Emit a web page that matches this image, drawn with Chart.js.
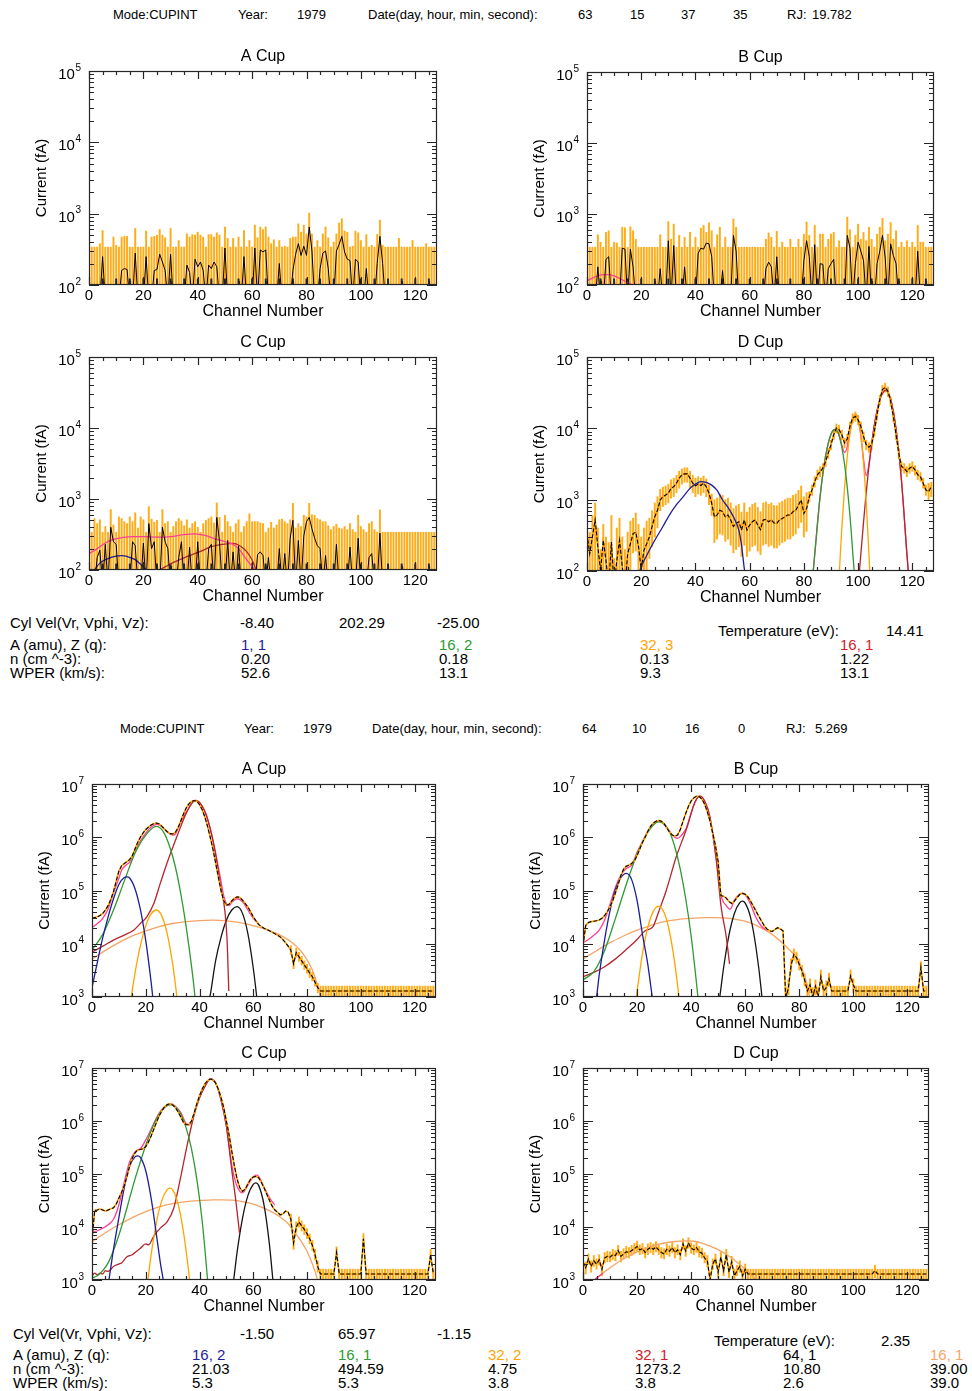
<!DOCTYPE html>
<html lang="en">
<head>
<meta charset="utf-8">
<title>CUPINT spectra</title>
<script src="https://cdn.jsdelivr.net/npm/chart.js@4.4.1/dist/chart.umd.min.js"></script>
<style>
html,body{margin:0;padding:0;background:#fff;}
body{position:relative;width:972px;height:1391px;overflow:hidden;font-family:"Liberation Sans",Arial,Helvetica,sans-serif;color:#000;}
canvas{position:absolute;display:block;}
.t{position:absolute;white-space:nowrap;line-height:1;}
.h{font-size:13px;}
.p{font-size:15px;}
</style>
</head>
<body>
<!-- header 1 -->
<div class="t h" style="left:113px;top:8px">Mode:CUPINT</div>
<div class="t h" style="left:238px;top:8px">Year:</div>
<div class="t h" style="left:297px;top:8px">1979</div>
<div class="t h" style="left:368px;top:8px">Date(day, hour, min, second):</div>
<div class="t h" style="left:578px;top:8px">63</div>
<div class="t h" style="left:630px;top:8px">15</div>
<div class="t h" style="left:681px;top:8px">37</div>
<div class="t h" style="left:733px;top:8px">35</div>
<div class="t h" style="left:787px;top:8px">RJ:</div>
<div class="t h" style="left:812px;top:8px">19.782</div>
<!-- parameter block 1 -->
<div class="t p" style="left:10px;top:615px">Cyl Vel(Vr, Vphi, Vz):</div>
<div class="t p" style="left:240px;top:615px">-8.40</div>
<div class="t p" style="left:339px;top:615px">202.29</div>
<div class="t p" style="left:437px;top:615px">-25.00</div>
<div class="t p" style="left:718px;top:623px">Temperature (eV):</div>
<div class="t p" style="left:886px;top:623px">14.41</div>
<div class="t p" style="left:10px;top:637px">A (amu), Z (q):</div>
<div class="t p" style="left:241px;top:637px;color:#1e1e9a">1, 1</div>
<div class="t p" style="left:439px;top:637px;color:#2e9a32">16, 2</div>
<div class="t p" style="left:640px;top:637px;color:#ffa500">32, 3</div>
<div class="t p" style="left:840px;top:637px;color:#d0232b">16, 1</div>
<div class="t p" style="left:10px;top:651px">n (cm ^-3):</div>
<div class="t p" style="left:241px;top:651px">0.20</div>
<div class="t p" style="left:439px;top:651px">0.18</div>
<div class="t p" style="left:640px;top:651px">0.13</div>
<div class="t p" style="left:840px;top:651px">1.22</div>
<div class="t p" style="left:10px;top:665px">WPER (km/s):</div>
<div class="t p" style="left:241px;top:665px">52.6</div>
<div class="t p" style="left:439px;top:665px">13.1</div>
<div class="t p" style="left:640px;top:665px">9.3</div>
<div class="t p" style="left:840px;top:665px">13.1</div>
<!-- header 2 -->
<div class="t h" style="left:120px;top:722px">Mode:CUPINT</div>
<div class="t h" style="left:244px;top:722px">Year:</div>
<div class="t h" style="left:303px;top:722px">1979</div>
<div class="t h" style="left:372px;top:722px">Date(day, hour, min, second):</div>
<div class="t h" style="left:582px;top:722px">64</div>
<div class="t h" style="left:632px;top:722px">10</div>
<div class="t h" style="left:685px;top:722px">16</div>
<div class="t h" style="left:738px;top:722px">0</div>
<div class="t h" style="left:786px;top:722px">RJ:</div>
<div class="t h" style="left:815px;top:722px">5.269</div>
<!-- parameter block 2 -->
<div class="t p" style="left:13px;top:1326px">Cyl Vel(Vr, Vphi, Vz):</div>
<div class="t p" style="left:240px;top:1326px">-1.50</div>
<div class="t p" style="left:338px;top:1326px">65.97</div>
<div class="t p" style="left:437px;top:1326px">-1.15</div>
<div class="t p" style="left:714px;top:1333px">Temperature (eV):</div>
<div class="t p" style="left:881px;top:1333px">2.35</div>
<div class="t p" style="left:13px;top:1347px">A (amu), Z (q):</div>
<div class="t p" style="left:192px;top:1347px;color:#1e1e9a">16, 2</div>
<div class="t p" style="left:338px;top:1347px;color:#2e9a32">16, 1</div>
<div class="t p" style="left:488px;top:1347px;color:#ffa500">32, 2</div>
<div class="t p" style="left:635px;top:1347px;color:#d0232b">32, 1</div>
<div class="t p" style="left:783px;top:1347px">64, 1</div>
<div class="t p" style="left:930px;top:1347px;color:#f5a468">16, 1</div>
<div class="t p" style="left:13px;top:1361px">n (cm ^-3):</div>
<div class="t p" style="left:192px;top:1361px">21.03</div>
<div class="t p" style="left:338px;top:1361px">494.59</div>
<div class="t p" style="left:488px;top:1361px">4.75</div>
<div class="t p" style="left:635px;top:1361px">1273.2</div>
<div class="t p" style="left:783px;top:1361px">10.80</div>
<div class="t p" style="left:930px;top:1361px">39.00</div>
<div class="t p" style="left:13px;top:1375px">WPER (km/s):</div>
<div class="t p" style="left:192px;top:1375px">5.3</div>
<div class="t p" style="left:338px;top:1375px">5.3</div>
<div class="t p" style="left:488px;top:1375px">3.8</div>
<div class="t p" style="left:635px;top:1375px">3.8</div>
<div class="t p" style="left:783px;top:1375px">2.6</div>
<div class="t p" style="left:930px;top:1375px">39.0</div>

<script>
// ---------------- DATA ----------------
const N = null;
const CHANNELS = Array.from({length: 128}, (_, i) => i);   // channel numbers 0..127
const TOP_MARK_CH = [5,10,15,20,25,30,35,40,45,50,55,60,65,70,75,80,85,90,95,100,105,110,115,120,125];
const TOP_MARK_VAL = 122;

// ===== Top set (day 63) =====
const aTopErrHi = [
380,340,340,340,380,580,340,340,340,470,360,340,470,480,480,340,
340,620,340,340,340,570,340,470,480,500,600,500,460,340,620,340,
340,420,340,340,520,470,510,500,550,500,470,340,510,510,470,540,
500,340,650,450,340,450,340,470,340,580,340,420,340,690,460,650,
600,650,470,380,430,340,420,340,350,340,450,470,470,720,550,690,
520,1020,520,340,420,340,520,650,460,340,400,520,740,850,570,550,
340,350,570,540,420,340,510,340,360,340,510,810,360,340,340,340,
340,340,450,340,340,340,340,420,340,340,340,340,380,340,340,340];
const aTopData = [
60,60,60,60,60,250,60,60,60,60,60,60,160,170,165,60,
60,280,60,60,60,250,60,60,160,165,270,210,160,60,270,60,
60,60,60,60,190,150,60,230,180,210,160,60,190,170,210,180,
60,60,330,60,60,60,60,60,60,250,60,60,60,330,60,310,
290,310,60,60,60,60,200,60,60,60,60,160,270,380,260,350,
260,650,300,60,60,170,280,300,170,60,60,300,370,480,290,230,
220,60,230,210,60,60,170,60,60,60,200,480,200,60,60,60,
60,60,60,60,60,60,60,60,60,60,60,60,60,60,60,60];

const bTopErrHi = [
470,340,340,340,510,400,340,550,580,340,400,390,340,650,640,340,
660,580,440,340,340,340,340,340,340,340,340,510,340,340,780,440,
720,340,500,340,470,340,550,340,470,340,630,690,550,750,580,340,
510,650,340,470,340,340,850,650,340,340,340,340,340,340,340,340,
340,340,440,540,470,340,570,340,400,340,340,440,340,340,440,340,
520,770,500,340,690,340,520,520,340,440,520,550,340,420,340,340,
900,600,340,500,720,440,550,420,650,440,340,520,650,870,420,520,
760,440,580,340,400,340,420,340,400,340,690,400,400,340,340,340];
const bTopData = [
60,60,60,60,180,60,60,230,250,60,60,60,60,330,320,60,
320,180,60,60,60,60,60,60,60,60,60,170,60,60,420,60,
360,60,60,60,180,60,60,60,60,280,330,320,390,380,250,60,
60,60,160,60,60,60,500,300,60,60,60,60,60,60,60,60,
60,60,170,210,180,60,250,60,60,60,60,60,60,60,60,60,
220,420,250,60,370,60,200,195,60,170,200,230,60,60,60,60,
500,330,60,200,400,300,220,60,350,60,60,200,300,500,240,60,
380,260,200,60,60,60,60,60,60,60,300,60,60,60,60,60];
const bTopPink = [[0,115],[2,125],[4,135],[6,140],[8,140],[10,134],[12,124],[14,113],[16,104],[17,99],[18,94]];

const cTopErrHi = [
340,340,530,450,510,340,410,340,710,430,340,560,530,480,450,560,
480,640,390,560,510,340,780,520,470,500,340,710,450,480,340,410,
480,530,490,420,510,390,450,480,400,340,450,500,530,560,460,880,
550,340,590,480,410,340,450,510,340,410,480,620,480,480,480,460,
450,340,390,470,390,430,510,520,480,450,510,870,390,450,410,590,
560,870,600,590,530,510,480,480,420,370,410,440,390,380,410,370,
450,370,340,590,410,370,340,450,480,370,340,700,340,340,340,340,
340,340,340,340,340,340,340,340,340,340,340,340,340,340,340,340];
const cTopData = [
60,60,60,150,190,60,230,60,400,250,230,60,60,60,60,60,
250,220,60,60,240,60,450,200,250,60,60,400,250,200,60,60,
60,150,250,60,60,210,60,60,250,60,60,60,200,230,60,550,
250,60,60,260,60,180,60,220,60,60,60,60,60,60,165,180,
160,60,150,60,60,60,200,60,170,60,280,500,60,260,60,300,
480,550,380,280,220,200,60,160,60,60,60,230,60,60,60,60,
210,60,60,280,60,60,60,150,170,60,60,330,60,60,60,60,
60,60,60,60,60,60,60,60,60,60,60,60,60,60,60,60];
const cTopPink = [[0,170],[3,200],[6,240],[9,270],[12,285],[16,295],[20,295],[25,290],[30,295],[35,315],[39,322],[43,305],[47,270],[50,250],[53,230],[55,200],[58,140],[61,100],[62,88]];
const cTopBlue = [[2,100],[4,125],[7,145],[10,157],[12,159],[14,155],[17,140],[19,120],[21,100],[22,92]];
const cTopRed  = [[26,100],[30,122],[36,154],[40.8,181],[45,213],[50,232],[53,237],[56,213],[58,181],[60,138],[61.5,100],[62,92]];

const dTopData = [
335,175,300,520,220,100,270,140,60,255,60,140,270,115,60,175,
240,335,350,220,105,195,240,300,420,575,710,990,1100,1160,1230,1440,
1520,1700,2000,2230,2300,2300,2000,1700,1560,1660,1580,1700,1520,1230,890,575,
610,710,680,575,610,520,420,465,490,375,520,375,440,490,520,440,
380,520,530,490,520,470,465,520,545,575,610,610,680,710,840,990,
640,750,1100,1370,1790,2230,2480,2760,3420,4500,5890,8130,10100,9550,8130,6230,
7100,10700,14000,14700,13200,10700,7700,5890,5440,5890,9100,15500,25300,35000,37600,33000,
24000,14700,8130,4500,2920,2760,2480,2760,2920,2620,2230,2100,1700,1370,1300,1520];
const dTopErrLo = [
40,40,40,40,40,40,40,40,40,40,40,40,40,40,40,40,
40,180,190,40,40,40,40,150,220,300,400,700,800,850,900,1050,
1100,1250,1450,1650,1750,1750,1450,1250,1100,1200,1150,1250,1100,850,600,250,
280,330,320,260,280,230,180,200,220,160,230,160,190,220,230,190,
170,230,240,220,230,210,210,230,250,260,280,280,310,330,400,480,
300,360,930,1150,1500,1900,2100,2350,2900,3800,5000,6900,8600,8100,6900,5300,
6000,9100,11900,12500,11200,9100,6500,5000,4600,5000,7700,13200,21500,29800,32000,28000,
20400,12500,6900,3800,2500,2350,2100,2350,2500,2200,1900,1800,1450,1150,1000,1100];
const dTopErrHi = [
500,350,600,900,400,200,450,300,250,600,150,400,550,300,200,350,
500,550,650,450,300,400,500,550,700,900,1100,1400,1500,1550,1650,1900,
2000,2200,2500,2700,2800,2800,2500,2200,2000,2100,2000,2150,1950,1600,1200,1000,
1050,1200,1150,1000,1050,900,750,820,860,670,900,670,780,860,900,780,
680,900,930,860,900,830,820,900,950,1000,1050,1050,1150,1200,1350,1550,
1100,1250,1300,1600,2100,2600,2900,3200,4000,5200,6800,9400,11500,11000,9400,7200,
8200,12300,16000,17000,15200,12300,8900,6800,6300,6800,10500,17800,29000,40000,43000,38000,
27600,17000,9400,5200,3400,3200,2900,3200,3400,3000,2600,2400,2000,1600,1700,1750];
const dTopBlue   = [[19.3,95],[20,115],[22,165],[25,270],[28,420],[30,575],[33,850],[35,1040],[38,1440],[40,1650],[42,1790],[44,1750],[46,1600],[48,1350],[50,990],[52,780],[54,575],[56,375],[57,230],[58,110],[58.3,95]];
const dTopGreen  = [[83.4,95],[84,170],[86,1120],[88,4050],[90,8250],[91.5,9700],[93,7900],[95,3150],[97,600],[98.5,107],[98.7,90]];
const dTopOrange = [[93,84],[94,400],[95,1450],[96,4000],[97,8350],[98,13100],[99.1,15500],[100,13300],[101,7900],[102,3250],[103,910],[104,175],[104.4,85]];
const dTopRed    = [[100.4,90],[102,480],[104,2950],[106,11100],[108,25000],[110.2,34000],[112,25700],[114,9800],[116,1870],[118,175],[118.6,90]];
const dTopPink   = [[83.4,95],[84,170],[86,1120],[88,4050],[90,8250],[91.5,9700],[93,7980],[94,5850],[95,4600],[96,5500],[97,8950],[98,13200],[99.1,15500],[100,13400],[101,8060],[102,3730],[103,2170],[104,3130],[106,11100],[108,25000],[110.2,34000],[112,25700],[114,9800],[116,1870],[118,175],[118.6,90]];

// ===== Bottom set (day 64) =====
const aBotData = [
30000,31000,32000,34000,37000,43000,52000,68000,95000,150000,230000,290000,320000,350000,380000,450000,
600000,800000,1000000,1200000,1400000,1550000,1700000,1800000,1850000,1780000,1600000,1420000,1270000,1170000,1150000,1230000,
1500000,2000000,2700000,3500000,4200000,4700000,4900000,4750000,4100000,3300000,2400000,1600000,1000000,600000,330000,180000,
100000,65000,53000,55000,64000,72000,76000,74000,66000,57000,49000,40000,32000,27000,23000,21000,
19500,18500,17500,16500,15500,14500,13500,12000,10500,9000,7600,4200,6800,5700,4800,4000,
3400,2800,2400,1900,1500,1300,1300,1300,1300,1300,1300,1300,1300,1300,1300,1300,
1300,1300,1300,1300,1300,1300,1300,1300,1300,1300,1300,1300,1300,1300,1300,1300,
1300,1300,1300,1300,1300,1300,1300,1300,1300,1300,1300,1300,1300,1300,1300,1300];
const aBotErrLo = [
N,N,N,N,N,N,N,N,N,N,N,N,N,N,N,N,
N,N,N,N,N,N,N,N,N,N,N,N,N,N,N,N,
N,N,N,N,N,N,N,N,N,N,N,N,N,N,N,N,
N,N,N,N,N,N,N,N,N,N,N,N,N,N,N,N,
N,N,N,N,N,N,N,N,N,N,6300,3400,5600,4700,4000,3300,
2800,2300,2000,1600,1200,800,800,800,800,800,800,800,800,800,800,800,
800,800,800,800,800,800,800,800,800,800,800,800,800,800,800,800,
800,800,800,800,800,800,800,800,800,800,800,800,800,800,800,800];
const aBotErrHi = [
N,N,N,N,N,N,N,N,N,N,N,N,N,N,N,N,
N,N,N,N,N,N,N,N,N,N,N,N,N,N,N,N,
N,N,N,N,N,N,N,N,N,N,N,N,N,N,N,N,
N,N,N,N,N,N,N,N,N,N,N,N,N,N,N,N,
N,N,N,N,N,N,N,N,N,N,9200,5100,8200,6900,5800,4800,
4100,3400,2900,2300,1800,1600,1600,1600,1600,1600,1600,1600,1600,1600,1600,1600,
1600,1600,1600,1600,1600,1600,1600,1600,1600,1600,1600,1600,1600,1600,1600,1600,
1600,1600,1600,1600,1600,1600,1600,1600,1600,1600,1600,1600,1600,1600,1600,1600];
const aBotBlue   = [[0,1500],[2,4500],[4,13000],[6,32000],[8,70000],[10,130000],[12,175000],[13,180000],[14,172000],[16,108000],[18,44000],[20,11400],[22,1900],[22.6,1000],[23,600]];
const aBotGreen  = [[0,7600],[4,15000],[8,43000],[12,150000],[16,500000],[20,1100000],[24,1600000],[27,1160000],[30,440000],[32,164000],[34,45000],[36,9400],[38,1460],[38.5,800]];
const aBotOrange = [[14.3,800],[16,2800],[18,9200],[20,21700],[22,36300],[24,43000],[26,33000],[28,15300],[30,4200],[31.6,1000],[32,640]];
const aBotRed    = [[0,7000],[4,9000],[8,11700],[12,14500],[15.5,18000],[18,24000],[20.4,32000],[23,57000],[25.4,136000],[27.9,325000],[31.6,1030000],[35.3,3000000],[38.4,4900000],[40.5,4200000],[42.7,2450000],[45.2,770000],[47.7,136000],[50.2,13500],[50.9,1300]];
const aBotBlack  = [[43.4,800],[44,1100],[46,4800],[48,13200],[50,27700],[52,43000],[54,50000],[56,37200],[58,15500],[60,3500],[61.3,1000],[61.7,650]];
const aBotPeach  = [[0,5100],[5,7500],[10,10500],[15,14000],[20,17500],[25,21000],[30,24000],[35,26000],[40,27300],[45,27800],[50,27000],[55,25000],[60,22000],[65,18500],[70,14500],[75,10000],[78,7000],[80,5000],[82,3200],[84,1600],[85,1000],[85.4,800]];
const aBotPink   = [[0,20000],[2,24000],[4,30000],[6,45000],[8,90000],[10,170000],[11,240000],[12,280000],[13,310000],[14,340000],[16,560000],[18,850000],[20,1200000],[22,1550000],[24,1750000],[26,1600000],[28,1250000],[30,1100000],[31,1150000],[33,1900000],[35.3,3100000],[38.4,4900000],[40.5,4200000],[42.7,2450000],[45.2,800000],[47.7,180000],[49,80000],[50,57000],[51,52000],[52,60000],[54,70000],[56,62000],[58,43000],[60,30000],[62,24000]];

const bBotData = [
9000,22000,25000,26000,26500,27000,28000,30000,34000,40000,50000,65000,90000,130000,190000,250000,
285000,300000,320000,360000,450000,600000,800000,1000000,1300000,1600000,1850000,2000000,2080000,2000000,1800000,1500000,
1250000,1100000,1050000,1100000,1400000,2000000,2800000,3800000,4800000,5500000,5900000,5800000,5200000,4200000,3000000,2000000,
1200000,700000,350000,80000,78000,72000,62000,57000,63000,74000,84000,88000,85000,76000,63000,51000,
41000,33000,27000,22000,19000,17500,17000,18500,20000,19000,17500,900,1500,4000,6300,5500,
4100,3100,2100,1300,1700,1000,1600,1000,2400,1300,1500,2200,1300,1300,1300,1300,
1300,1300,1300,2500,1700,1300,1300,1300,1300,1300,1300,1300,1300,1300,1300,1300,
1300,1300,1300,1300,1300,1300,1300,1300,1300,1300,1300,1300,1300,3600,1300,1300];
const bBotErrLo = [
7000,N,N,N,N,N,N,N,N,N,N,N,N,N,N,N,
N,N,N,N,N,N,N,N,N,N,N,N,N,N,N,N,
N,N,N,N,N,N,N,N,N,N,N,N,N,N,N,N,
N,N,N,N,N,N,N,N,N,N,N,N,N,N,N,N,
N,N,N,N,N,N,N,N,N,N,N,600,1100,3000,4900,4300,
3200,2400,1600,900,1200,700,1100,700,1800,900,1100,1600,800,800,800,800,
800,800,800,1900,1200,800,800,800,800,800,800,800,800,800,800,800,
800,800,800,800,800,800,800,800,800,800,800,800,800,2700,800,800];
const bBotErrHi = [
11000,N,N,N,N,N,N,N,N,N,N,N,N,N,N,N,
N,N,N,N,N,N,N,N,N,N,N,N,N,N,N,N,
N,N,N,N,N,N,N,N,N,N,N,N,N,N,N,N,
N,N,N,N,N,N,N,N,N,N,N,N,N,N,N,N,
N,N,N,N,N,N,N,N,N,N,N,1500,2100,5200,8000,7000,
5200,3900,2700,1700,2200,1500,2100,1500,3200,1700,2000,2800,1600,1600,1600,1600,
1600,1600,1600,3200,2200,1600,1600,1600,1600,1600,1600,1600,1600,1600,1600,1600,
1600,1600,1600,1600,1600,1600,1600,1600,1600,1600,1600,1600,1600,4600,1600,1600];
const bBotBlue   = [[4.6,800],[5,1000],[6,2600],[8,12000],[10,42000],[12,105000],[14,175000],[16,210000],[18,160000],[20,65000],[22,15000],[24,4000],[25.6,1000],[26,700]];
const bBotGreen  = [[0,2100],[4,3000],[8,7500],[12,30000],[16,130000],[20,480000],[24,1250000],[28,1950000],[30,1750000],[32,1250000],[34,650000],[36,250000],[38,70000],[40,14000],[42,1800],[42.5,1000],[42.8,700]];
const bBotOrange = [[19.4,800],[19.7,1000],[22,6600],[24,20600],[26,40500],[28,51000],[30,38600],[32,16800],[34,4100],[35.5,1000],[35.9,650]];
const bBotRed    = [[0,2400],[4,2900],[8,3700],[12,5200],[16,7800],[20,12000],[23,17500],[25.9,21000],[28,40000],[30.8,100000],[34.5,430000],[38.2,1400000],[41.3,4400000],[43.2,5900000],[45,4800000],[46.9,2450000],[49.3,375000],[51.1,49000],[53,13500],[54.2,4200]];
const bBotBlack  = [[50.3,800],[50.6,1000],[52,3500],[54,14500],[56,37000],[58,59000],[59,63000],[60,58000],[62,31000],[64,8500],[66,1260],[66.4,700]];
const bBotPeach  = [[0,5200],[5,7400],[10,10500],[15,14000],[20,18000],[25,22000],[30,26000],[35,28500],[40,30000],[45,31000],[48,31000],[52,30500],[56,29000],[60,26500],[65,21000],[70,15000],[75,9000],[78,6300],[80,4500],[82,2500],[83,1600],[84,900],[84.3,700]];
const bBotPink   = [[0,10400],[2,12000],[4,14500],[6,18000],[8,28000],[10,55000],[12,115000],[14,195000],[16,260000],[18,300000],[20,520000],[22,830000],[24,1300000],[26,1750000],[28,2000000],[30,1800000],[32,1300000],[33,1100000],[35,950000],[36.5,1100000],[38.2,1470000],[41.3,4400000],[43.2,5900000],[45,4800000],[46.9,2480000],[49.3,406000],[51.1,81000],[53,52000],[54.5,44500],[56,66000],[58,86000],[59,89500],[60,84000],[62,55000],[64,31000],[66,21300],[68,18000]];

const cBotData = [
5700,20500,21000,22000,21000,20000,21000,22000,23000,27000,35000,45000,60000,90000,140000,200000,
250000,285000,290000,300000,330000,400000,520000,700000,950000,1250000,1550000,1850000,2050000,2100000,2000000,1800000,
1500000,1200000,950000,850000,850000,1000000,1400000,2100000,3000000,4000000,5000000,5800000,6200000,6000000,5200000,4000000,
2800000,1800000,1000000,550000,270000,140000,80000,55000,47000,52000,65000,80000,88000,90000,85000,70000,
55000,42000,32000,25000,21000,19000,17000,17500,20000,19000,14000,5000,10000,12500,10500,9000,
7500,6000,4500,3000,1800,1300,1300,1300,1300,1300,1300,3300,1300,1300,1300,1300,
1300,1300,1300,1300,1300,6000,1300,1300,1300,1300,1300,1300,1300,1300,1300,1300,
1300,1300,1300,1300,1300,1300,1300,1300,1300,1300,1300,1300,1300,1300,3000,1300];
const cBotErrLo = [
3800,N,N,N,N,N,N,N,N,N,N,N,N,N,N,N,
N,N,N,N,N,N,N,N,N,N,N,N,N,N,N,N,
N,N,N,N,N,N,N,N,N,N,N,N,N,N,N,N,
N,N,N,N,N,N,N,N,N,N,N,N,N,N,N,N,
N,N,N,N,N,N,N,N,N,N,11000,3800,8000,10000,8400,7200,
6000,4800,3600,2400,1400,800,800,800,800,800,800,2500,800,800,800,800,
800,800,800,800,800,4600,800,800,800,800,800,800,800,800,800,800,
800,800,800,800,800,800,800,800,800,800,800,800,800,800,2200,800];
const cBotErrHi = [
8000,N,N,N,N,N,N,N,N,N,N,N,N,N,N,N,
N,N,N,N,N,N,N,N,N,N,N,N,N,N,N,N,
N,N,N,N,N,N,N,N,N,N,N,N,N,N,N,N,
N,N,N,N,N,N,N,N,N,N,N,N,N,N,N,N,
N,N,N,N,N,N,N,N,N,N,17500,6500,12500,15500,13000,11000,
9300,7400,5600,3800,2300,1600,1600,1600,1600,1600,1600,4200,1600,1600,1600,1600,
1600,1600,1600,1600,1600,7500,1600,1600,1600,1600,1600,1600,1600,1600,1600,1600,
1600,1600,1600,1600,1600,1600,1600,1600,1600,1600,1600,1600,1600,1600,3800,1600];
const cBotBlue   = [[6,800],[6.3,1000],[8,3800],[10,15000],[12,55000],[14,140000],[16,210000],[17,220000],[18,205000],[20,115000],[22,35000],[24,7000],[25.5,2000],[26.5,1000],[26.8,750]];
const cBotGreen  = [[0,1100],[2,1200],[4,1500],[6,2100],[8,3600],[10,7000],[12,15000],[14,35000],[16,80000],[18,170000],[20,350000],[22,650000],[24,1100000],[26,1600000],[28,1950000],[29.5,2050000],[31,1850000],[33,1350000],[35,750000],[37,300000],[39,80000],[41,13000],[42.5,2000],[43,1000],[43.3,700]];
const cBotOrange = [[20.5,800],[20.8,1000],[22,3000],[24,12400],[26,31800],[28,50900],[29,54000],[30,50100],[32,27600],[34,8300],[36,1400],[36.3,1000],[36.6,750]];
const cBotRed    = [[0,1200],[1,1350],[2,1250],[3,1340],[4,1300],[5,1500],[6,1450],[8,1800],[10,2000],[11,2100],[13,2750],[15,3000],[16,3300],[18,3960],[20,4800],[21,4600],[22.9,6600],[25.4,9500],[28,12600],[30.4,22600],[32.8,78000],[35.3,330000],[38,1300000],[40,2700000],[42,4500000],[44,6200000],[46,5200000],[48,2500000],[50,790000],[52,120000],[53.5,32000],[54.9,7600]];
const cBotBlack  = [[52.4,800],[52.7,1000],[54,3400],[56,14600],[58,39000],[60,64000],[61,68000],[62,61000],[64,26200],[66,4800],[67.3,1000],[67.6,680]];
const cBotPeach  = [[0,5300],[5,7800],[10,11000],[15,15000],[20,19500],[25,24000],[30,27500],[35,30000],[40,31500],[45,32500],[48,32500],[52,32000],[56,30000],[60,27000],[65,21500],[70,15500],[73,11500],[75,8500],[78,5200],[80,3500],[82,2000],[83.5,1200],[84,950],[84.3,800]];
const cBotPink   = [[0,7800],[2,8500],[4,9500],[6,11000],[8,14000],[10,26000],[12,70000],[14,170000],[16,260000],[17,285000],[18,300000],[20,440000],[22,700000],[24,1150000],[26,1650000],[28,2000000],[29.5,2100000],[31,1900000],[33,1450000],[35,900000],[36.3,850000],[38,1400000],[40,2800000],[42,4500000],[44,6200000],[46,5200000],[48,2500000],[50,820000],[52,150000],[53.5,68000],[55,47000],[56,44000],[57,50000],[59,75000],[61,95000],[62,90000],[64,57000],[66,36000],[68,26000]];

const dBotData = [
2200,1700,2500,1800,2300,2000,2400,1600,2600,2800,2700,3000,2900,3600,2800,3100,
3400,3300,3600,3900,4300,3700,3900,3300,3800,4100,3800,4200,3700,3300,3100,3800,
3500,4100,3300,3700,3000,4800,3500,5000,4000,3700,4100,3400,3200,2600,2300,1000,
2000,2500,1400,2700,1500,3000,1400,2200,1200,1500,1800,1200,1600,1300,1300,1300,
1300,1300,1300,1300,1300,1300,1300,1300,1300,1300,1300,1300,1300,1300,1300,1300,
1300,1300,1300,1300,1300,1300,1300,1300,1300,1300,1300,1300,1300,1300,1300,1300,
1300,1300,1300,1300,1300,1300,1300,1300,1300,1300,1300,1300,1500,1300,1300,1300,
1300,1300,1300,1300,1300,1300,1300,1300,1300,1300,1300,1300,1300,1300,1300,1300];
const dBotErrLo = [
1700,1300,2000,1400,1800,1600,1900,1200,2100,2200,2200,2400,2300,2900,2200,2500,
2700,2600,2900,3100,3400,3000,3100,2600,3000,3300,3000,3400,3000,2600,2500,3000,
2800,3300,2600,3000,2400,3800,2800,4000,3200,3000,3300,2700,2600,2100,1800,700,
1600,2000,1100,2200,1200,2400,1100,1800,900,1200,1400,900,1300,800,800,800,
800,800,800,800,800,800,800,800,800,800,800,800,800,800,800,800,
800,800,800,800,800,800,800,800,800,800,800,800,800,800,800,800,
800,800,800,800,800,800,800,800,800,800,800,800,1100,800,800,800,
800,800,800,800,800,800,800,800,800,800,800,800,800,800,800,800];
const dBotErrHi = [
2800,2200,3100,2300,2900,2500,3000,2000,3300,3500,3400,3800,3600,4500,3500,3900,
4300,4100,4500,4900,5400,4600,4900,4100,4800,5100,4800,5300,4600,4100,3900,4800,
4400,5100,4100,4600,3800,6000,4400,6300,5000,4600,5100,4300,4000,3300,2900,1400,
2500,3100,1800,3400,1900,3800,1800,2800,1600,1900,2300,1600,2000,1600,1600,1600,
1600,1600,1600,1600,1600,1600,1600,1600,1600,1600,1600,1600,1600,1600,1600,1600,
1600,1600,1600,1600,1600,1600,1600,1600,1600,1600,1600,1600,1600,1600,1600,1600,
1600,1600,1600,1600,1600,1600,1600,1600,1600,1600,1600,1600,1900,1600,1600,1600,
1600,1600,1600,1600,1600,1600,1600,1600,1600,1600,1600,1600,1600,1600,1600,1600];
const dBotPeach = [[3.8,920],[4.3,1000],[7.4,1350],[10,1700],[14,2330],[20,3390],[25,4280],[30,4990],[34,5330],[37.6,5450],[41,5380],[45,4770],[50,3750],[55,2600],[60,1610],[62,1310],[64,1000],[64.4,950]];
const dBotPink  = [[3.8,920],[4.3,1000],[5.8,1170],[7.4,1350]];

// ---------------- STYLE ----------------
const COL = {err:'rgba(255,163,0,0.9)', blue:'#1e1e9a', green:'#2e9a32', orange:'#ffa500', red:'#b3262c',
             pink:'#ff3e96', black:'#151515', peach:'#f5a468', mark:'#1d2236'};
const FONT = '"Liberation Sans", Arial, Helvetica, sans-serif';
Chart.defaults.font.family = FONT;
Chart.defaults.color = '#000';
const BAR_W = 1.3;

function errBars(hi){
  return {type:'bar', data: hi.map((v,i)=>({x:CHANNELS[i], y:v})), backgroundColor:COL.err,
          barThickness:BAR_W, grouped:false, order:10, clip:0};
}
function errFloat(lo, hi){
  const d = [];
  hi.forEach((h,i)=>{ if (h !== null) d.push({x:CHANNELS[i], y:[lo[i], h]}); });
  return {type:'bar', data:d, backgroundColor:COL.err, barThickness:BAR_W, grouped:false, order:10, clip:0};
}
function marks(){
  return {type:'bar', data: TOP_MARK_CH.map(c=>({x:c, y:TOP_MARK_VAL})), backgroundColor:COL.mark,
          barThickness:BAR_W, grouped:false, order:9, clip:0};
}
function dataLine(vals, dashed){
  const d = vals.map((v,i)=>({x:CHANNELS[i], y:v}));
  if (!dashed) return [{type:'line', data:d, borderColor:'#000', borderWidth:1, pointRadius:0, tension:0, order:1, clip:0}];
  return [
    {type:'line', data:d, borderColor:COL.orange, borderWidth:1.6, pointRadius:0, tension:0, order:2, clip:0},
    {type:'line', data:d, borderColor:'#000', borderWidth:1.1, borderDash:[4,2], pointRadius:0, tension:0, order:1, clip:0}
  ];
}
function fit(pairs, color, order){
  return {type:'line', data: pairs.map(([x,y])=>({x,y})), borderColor:color, borderWidth:1.3, pointRadius:0,
          cubicInterpolationMode:'monotone', order:order, clip:0};
}

// IDL-like frame: inward ticks on four sides and 10^n labels
const idlFrame = {
  id:'idlFrame',
  afterDatasetsDraw(chart){
    const {ctx, chartArea:a, scales:{x, y}} = chart;
    ctx.save();
    ctx.strokeStyle = '#262626'; ctx.lineWidth = 1.2;
    ctx.beginPath();
    for (let v = 0; v <= x.max; v += 5){
      const px = Math.round(x.getPixelForValue(v)) + 0.5;
      const len = (v % 20 === 0) ? 8 : 4;
      ctx.moveTo(px, a.bottom); ctx.lineTo(px, a.bottom - len);
      ctx.moveTo(px, a.top); ctx.lineTo(px, a.top + len);
    }
    const d0 = Math.round(Math.log10(y.min)), d1 = Math.round(Math.log10(y.max));
    for (let d = d0; d <= d1; d++){
      for (let k = 1; k <= 9; k++){
        const v = k * Math.pow(10, d);
        if (v > y.max * 1.0001) break;
        const py = Math.round(y.getPixelForValue(v)) + 0.5;
        const len = (k === 1) ? 10 : 5;
        ctx.moveTo(a.left, py); ctx.lineTo(a.left + len, py);
        ctx.moveTo(a.right, py); ctx.lineTo(a.right - len, py);
      }
    }
    ctx.stroke();
    ctx.strokeRect(a.left + 0.5, a.top + 0.5, a.right - a.left - 1, a.bottom - a.top - 1);
    ctx.fillStyle = '#000'; ctx.textAlign = 'right'; ctx.textBaseline = 'alphabetic';
    for (let d = d0; d <= d1; d++){
      const py = y.getPixelForValue(Math.pow(10, d));
      ctx.font = '10px ' + FONT;
      const ex = String(d), ew = ctx.measureText(ex).width;
      ctx.fillText(ex, a.left - 8, py - 0.5);
      ctx.font = '15px ' + FONT;
      ctx.fillText('10', a.left - 8 - ew - 0.5, py + 8);
    }
    ctx.restore();
  }
};

function makeChart(p){
  const [L, T, W, H] = p.rect;
  const cv = document.createElement('canvas');
  cv.width = W + 72; cv.height = H + 74;
  cv.style.left = (L - 60) + 'px'; cv.style.top = (T - 32) + 'px';
  cv.style.width = (W + 72) + 'px'; cv.style.height = (H + 74) + 'px';
  document.body.appendChild(cv);
  new Chart(cv, {
    type:'line',
    data:{datasets:p.datasets},
    options:{
      responsive:false, animation:false, devicePixelRatio:1,
      layout:{padding:{left:0, right:12, top:0, bottom:0}},
      elements:{line:{capBezierPoints:false}},
      plugins:{
        legend:{display:false}, tooltip:{enabled:false},
        title:{display:true, text:p.title, color:'#000', fullSize:false,
               font:{size:16, weight:'normal'}, padding:{top:8, bottom:4.8}}
      },
      scales:{
        x:{type:'linear', min:0, max:128, offset:false,
           grid:{display:false, drawTicks:false}, border:{display:false},
           ticks:{stepSize:20, includeBounds:false, autoSkip:false, maxRotation:0, padding:2, color:'#000', font:{size:15}},
           title:{display:true, text:'Channel Number', color:'#000', font:{size:16}, padding:5.4},
           afterFit(s){ s.height = 42; }},
        y:{type:'logarithmic', min:p.yr[0], max:p.yr[1],
           grid:{display:false, drawTicks:false}, border:{display:false},
           ticks:{display:false},
           title:{display:true, text:'Current (fA)', color:'#000', font:{size:15}, padding:4},
           afterFit(s){ s.width = 60; }}
      }
    },
    plugins:[idlFrame]
  });
}

const PANELS = [
  {title:'A Cup', rect:[89,71,348,214], yr:[1e2,1e5],
   datasets:[errBars(aTopErrHi), marks(), ...dataLine(aTopData,false)]},
  {title:'B Cup', rect:[587,72,347,213], yr:[1e2,1e5],
   datasets:[errBars(bTopErrHi), marks(), ...dataLine(bTopData,false), fit(bTopPink,COL.pink,3)]},
  {title:'C Cup', rect:[89,357,348,213], yr:[1e2,1e5],
   datasets:[errBars(cTopErrHi), marks(), ...dataLine(cTopData,false),
             fit(cTopPink,COL.pink,3), fit(cTopBlue,COL.blue,3), fit(cTopRed,COL.red,3)]},
  {title:'D Cup', rect:[587,357,347,214], yr:[1e2,1e5],
   datasets:[errFloat(dTopErrLo,dTopErrHi), ...dataLine(dTopData,true),
             fit(dTopPink,COL.pink,7), fit(dTopBlue,COL.blue,0), fit(dTopGreen,COL.green,6),
             fit(dTopOrange,COL.orange,6), fit(dTopRed,COL.red,6)]},
  {title:'A Cup', rect:[92,784,344,213], yr:[1e3,1e7],
   datasets:[errFloat(aBotErrLo,aBotErrHi), ...dataLine(aBotData,true),
             fit(aBotPeach,COL.peach,8), fit(aBotPink,COL.pink,7), fit(aBotBlue,COL.blue,6),
             fit(aBotGreen,COL.green,6), fit(aBotOrange,COL.orange,6), fit(aBotRed,COL.red,6), fit(aBotBlack,COL.black,6)]},
  {title:'B Cup', rect:[583,784,346,213], yr:[1e3,1e7],
   datasets:[errFloat(bBotErrLo,bBotErrHi), ...dataLine(bBotData,true),
             fit(bBotPeach,COL.peach,8), fit(bBotPink,COL.pink,7), fit(bBotBlue,COL.blue,6),
             fit(bBotGreen,COL.green,6), fit(bBotOrange,COL.orange,6), fit(bBotRed,COL.red,6), fit(bBotBlack,COL.black,6)]},
  {title:'C Cup', rect:[92,1068,344,212], yr:[1e3,1e7],
   datasets:[errFloat(cBotErrLo,cBotErrHi), ...dataLine(cBotData,true),
             fit(cBotPeach,COL.peach,8), fit(cBotPink,COL.pink,7), fit(cBotBlue,COL.blue,6),
             fit(cBotGreen,COL.green,6), fit(cBotOrange,COL.orange,6), fit(cBotRed,COL.red,6), fit(cBotBlack,COL.black,6)]},
  {title:'D Cup', rect:[583,1068,346,212], yr:[1e3,1e7],
   datasets:[errFloat(dBotErrLo,dBotErrHi), ...dataLine(dBotData,true),
             fit(dBotPeach,COL.peach,8), fit(dBotPink,COL.pink,7)]}
];

PANELS.forEach(makeChart);
</script>
</body>
</html>
